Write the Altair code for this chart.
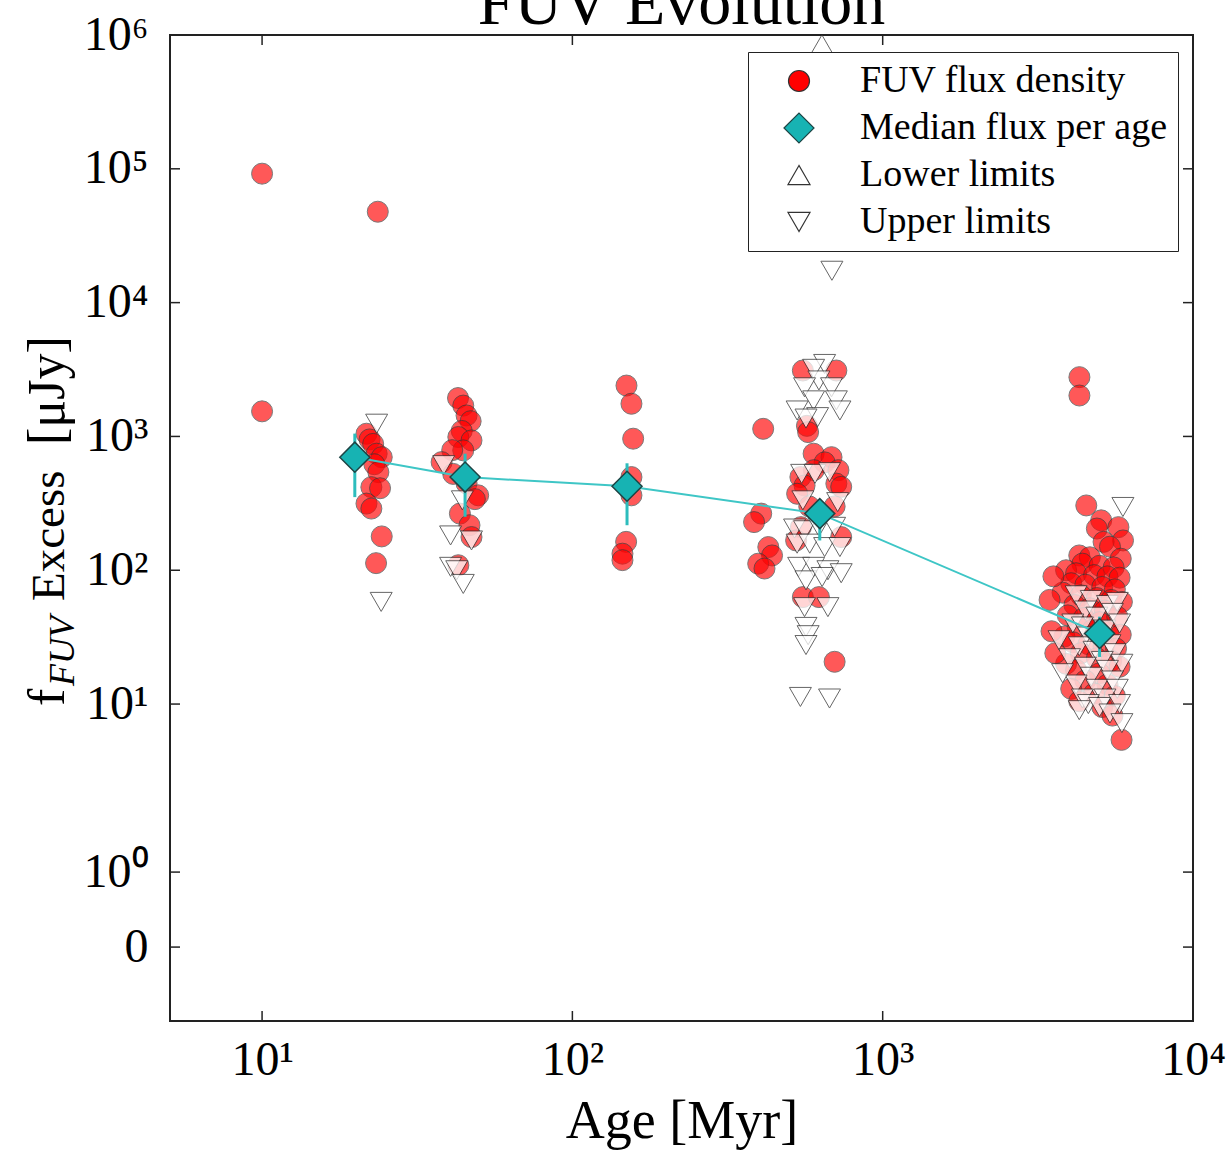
import altair as alt
import pandas as pd

# ---------------- data ----------------
title_text = "FUV Evolution"
x_title = "Age [Myr]"
y_title_f = "f"
y_title_sub = "FUV"
y_title_mid = "Excess"
y_title_unit = "[\u03bcJy]"

series_names = ["FUV flux density", "Median flux per age", "Lower limits", "Upper limits"]

circle_age = [
    10, 10,
    23.6, 21.7, 22.2, 22.8, 23.4, 24.3, 23.0, 23.7, 22.5, 24.0, 21.7, 22.5, 24.3, 23.3,
    42.8, 44.5, 45.6, 47.0, 44.0, 42.9, 47.3, 44.5, 41.0, 37.9, 41.3, 45.6, 49.7, 48.5, 43.4, 46.6, 47.3, 42.9,
    149.4, 155, 157, 155, 155, 149, 145, 145,
    412, 406, 385, 428, 440, 397, 416,
    553, 709, 570, 575, 599, 684, 650, 600, 720, 543, 709, 560, 735, 530, 580, 700, 545, 526, 735, 553, 623, 700,
    4305, 4305, 4530, 5060, 5750, 4900, 5950, 5150, 5400, 4300, 5850, 4650, 4400, 5000, 5550,
    3900, 4200, 4800, 5300, 5800, 4050, 4500, 5100, 5600, 3800, 4350, 4900, 5450, 5900, 4150,
    4650, 5200, 3950, 4450, 5000, 5700, 4250, 4750, 5350, 5850, 3850, 4100, 4600, 5150, 5650,
    4350, 4900, 5450, 3900, 4200, 5000, 5800, 4500, 5300, 4050, 4800, 5600, 4300, 5100, 5500, 5885,
    3550, 3450, 3500, 3600,
]
circle_flux = [
    92000, 1540,
    47800, 1048, 950, 880, 743, 700, 620, 541, 418, 410, 315, 289, 179, 113,
    1936, 1700, 1435, 1300, 1100, 990, 934, 787, 790, 643, 525, 446, 363, 340, 265, 217, 177, 109,
    2400, 1755, 962, 497, 363, 163, 133, 119,
    1140, 265, 229, 149, 129, 112, 103,
    3110, 3110, 1200, 1077, 743, 700, 640, 560, 560, 497, 444, 430, 420, 373, 300, 300, 210, 167, 177, 63, 63, 20.7,
    2774, 2022, 305, 236, 210, 205, 167, 163, 150, 129, 122, 125, 112, 108, 105,
    100, 95, 92, 90, 88, 80, 78, 75, 72, 68, 65, 62, 60, 58, 55,
    52, 50, 46, 44, 41, 45, 38, 36, 35, 33, 32, 29, 28, 27, 26,
    24, 22, 21, 20, 18, 17, 19, 15, 14, 13, 12, 11.5, 10.5, 9.5, 8.2, 5.4,
    90, 60, 35, 24,
]

upper_age = [
    23.4, 24.2,
    38.5, 44.2, 40.5, 47.3, 40.5, 42.4, 44.5,
    686, 650, 599, 623, 560, 684, 599, 709, 530, 728, 617, 566, 548, 605, 674, 553, 716,
    520, 560, 623, 700, 530, 582, 650, 728, 536, 599, 666, 735, 566, 638, 560, 666, 566, 575, 566, 543, 674,
    5945, 4200, 4700, 5300, 5700, 4500, 4900, 5500, 4100, 4400, 5200, 5800, 4600, 5000, 5400, 4300, 4800, 5600,
    4000, 5100, 5900, 4500, 5300, 4700, 5500, 4200, 4900, 5700, 4400, 5200, 4600, 5000, 5800, 4300, 5400, 5900,
    3700, 3800,
]
upper_flux = [
    1245, 58,
    610, 333, 182, 167, 106, 100, 79,
    17300, 3480, 3200, 2620, 2330, 2330, 1860, 1860, 1563, 1563, 1394, 1360, 525, 525, 541, 333, 323,
    205, 199, 211, 211, 158, 158, 149, 149, 106, 106, 100, 95, 84, 89, 53, 53, 37.7, 32.7, 27.6, 11.3, 11.0,
    297, 65, 60, 55, 58, 50, 45, 48, 40, 38, 36, 40, 32, 30, 28, 27, 25, 24,
    22, 21, 20, 19, 18, 16, 15, 14, 13, 13, 11, 11, 10, 9.5, 10, 9, 8.5, 7.2,
    30, 17,
]

lower_age = [637]
lower_flux = [850000]

median_age = [19.9, 45.1, 150, 627, 5000]
median_flux = [700, 497, 424, 265, 33.7]
median_lo = [352, 251, 217, 167, 22.5]
median_hi = [1050, 743, 630, 340, 45]

x_tick_values = [10, 100, 1000, 10000]
x_tick_labels = ["10\u00b9", "10\u00b2", "10\u00b3", "10\u2074"]
y_tick_values = [1e6, 1e5, 1e4, 1e3, 1e2, 1e1, 0.555, 0.1527]
y_tick_labels = ["10\u2076", "10\u2075", "10\u2074", "10\u00b3", "10\u00b2", "10\u00b9", "10\u2070", "0"]

x_domain = [5.05, 10000]
y_domain = [0.0428, 1e6]

# ---------------- tables ----------------
circles = pd.DataFrame({"age": circle_age, "flux": circle_flux, "series": series_names[0]})
uppers = pd.DataFrame({"age": upper_age, "flux": upper_flux, "series": series_names[3]})
lowers = pd.DataFrame({"age": lower_age, "flux": lower_flux, "series": series_names[2]})
medians = pd.DataFrame({"age": median_age, "flux": median_flux, "lo": median_lo,
                        "hi": median_hi, "series": series_names[1]})
xt = pd.DataFrame({"age": x_tick_values})
yt = pd.DataFrame({"flux": y_tick_values})

FONT = "Liberation Serif"
W, H = 1023, 986

xs = alt.Scale(type="log", domain=x_domain, nice=False, zero=False)
ys = alt.Scale(type="log", domain=y_domain, nice=False, zero=False)


def lab_expr(vals, labs):
    cond = "'' "
    for v, l in zip(reversed(vals), reversed(labs)):
        cond = "(abs(datum.value - %r) < %r ? '%s' : %s)" % (v, v * 1e-6, l, cond)
    return cond


x_axis = alt.Axis(values=x_tick_values, labelExpr=lab_expr(x_tick_values, x_tick_labels),
                  ticks=False, domain=False, grid=False, labelFont=FONT, labelFontSize=48,
                  labelColor="black", labelPadding=15, labelFlush=False, labelOverlap=False,
                  labelBound=False,
                  title=x_title, titleFont=FONT, titleFontSize=54, titleFontWeight="normal",
                  titleColor="black", titleX=W / 2, titleY=116, titleBaseline="alphabetic",
                  titleAlign="center")
y_axis = alt.Axis(values=y_tick_values, labelExpr=lab_expr(y_tick_values, y_tick_labels),
                  ticks=False, domain=False, grid=False, labelFont=FONT, labelFontSize=48,
                  labelColor="black", labelPadding=22, labelOverlap=False, labelBound=False,
                  labelFlush=False, title=None)

legend = alt.Legend(title=None, orient="none", legendX=578, legendY=17,
                    labelFont=FONT, labelFontSize=38, labelColor="black", labelOffset=42,
                    symbolOffset=22, rowPadding=9, padding=10, strokeColor="#222",
                    fillColor="white", cornerRadius=0, symbolOpacity=1,
                    symbolStrokeWidth=1.2, labelLimit=600)

shape_scale = alt.Scale(domain=series_names, range=["circle", "diamond", "triangle-up", "triangle-down"])
fill_scale = alt.Scale(domain=series_names, range=["#ff0000", "#17b3b3", "#ffffff", "#ffffff"])
stroke_scale = alt.Scale(domain=series_names, range=["#333333", "#1d4444", "#333333", "#333333"])
size_scale = alt.Scale(type="ordinal", domain=series_names, range=[441, 900, 484, 484])


def xy(yfield="flux"):
    return dict(x=alt.X("age:Q", scale=xs, axis=x_axis),
                y=alt.Y(yfield + ":Q", scale=ys, axis=y_axis))


def sym_enc():
    d = xy()
    d.update(
        shape=alt.Shape("series:N", scale=shape_scale, legend=legend),
        fill=alt.Fill("series:N", scale=fill_scale, legend=legend),
        stroke=alt.Stroke("series:N", scale=stroke_scale, legend=legend),
        size=alt.Size("series:N", scale=size_scale, legend=legend),
    )
    return d


circ_layer = alt.Chart(circles).mark_point(filled=True, opacity=0.65, strokeWidth=1).encode(**sym_enc())
up_layer = alt.Chart(uppers).mark_point(filled=True, opacity=0.75, strokeWidth=1).encode(**sym_enc())
low_layer = alt.Chart(lowers).mark_point(filled=True, opacity=0.75, strokeWidth=1).encode(**sym_enc())

line_layer = alt.Chart(medians).mark_line(color="#3ec6c6", strokeWidth=2).encode(**xy())
err_enc = xy("lo")
err_enc["y2"] = "hi:Q"
err_layer = alt.Chart(medians).mark_rule(color="#2dbdbd", strokeWidth=3).encode(**err_enc)
dia_layer = alt.Chart(medians).mark_point(filled=True, opacity=1, strokeWidth=1.5).encode(**sym_enc())

tick_style = dict(stroke="#222", strokeWidth=1.5)
yl = alt.Chart(yt).mark_rule(**tick_style).encode(
    y=alt.Y("flux:Q", scale=ys, axis=y_axis), x=alt.value(0), x2=alt.value(10))
yr = alt.Chart(yt).mark_rule(**tick_style).encode(
    y=alt.Y("flux:Q", scale=ys, axis=y_axis), x=alt.value(W - 10), x2=alt.value(W))
xb = alt.Chart(xt).mark_rule(**tick_style).encode(
    x=alt.X("age:Q", scale=xs, axis=x_axis), y=alt.value(H - 10), y2=alt.value(H))
xtp = alt.Chart(xt).mark_rule(**tick_style).encode(
    x=alt.X("age:Q", scale=xs, axis=x_axis), y=alt.value(0), y2=alt.value(10))

title_layer = alt.Chart(pd.DataFrame({"t": [title_text]})).mark_text(
    font=FONT, fontSize=66, align="center", baseline="alphabetic", color="black").encode(
    x=alt.value(W / 2), y=alt.value(-11), text="t:N")

yt1 = alt.Chart(pd.DataFrame({"t": [y_title_f]})).mark_text(
    font=FONT, fontSize=52, angle=270, align="left", baseline="alphabetic", color="black").encode(
    x=alt.value(-106), y=alt.value(671), text="t:N")
yt2 = alt.Chart(pd.DataFrame({"t": [y_title_sub]})).mark_text(
    font=FONT, fontSize=36, fontStyle="italic", angle=270, align="left", baseline="alphabetic",
    color="black").encode(x=alt.value(-96), y=alt.value(651), text="t:N")
yt3 = alt.Chart(pd.DataFrame({"t": [y_title_mid]})).mark_text(
    font=FONT, fontSize=47, angle=270, align="left", baseline="alphabetic", color="black").encode(
    x=alt.value(-106), y=alt.value(566), text="t:N")
yt4 = alt.Chart(pd.DataFrame({"t": [y_title_unit]})).mark_text(
    font=FONT, fontSize=52, angle=270, align="left", baseline="alphabetic", color="black").encode(
    x=alt.value(-106), y=alt.value(410), text="t:N")

chart = alt.layer(
    circ_layer, up_layer, low_layer, line_layer, err_layer, dia_layer,
    yl, yr, xb, xtp, title_layer, yt1, yt2, yt3, yt4,
).properties(
    width=W, height=H,
    autosize=alt.AutoSizeParams(type="none"),
    padding={"left": 170, "top": 35, "right": 39, "bottom": 130},
).configure(font=FONT, background="white").configure_view(stroke="#222", strokeWidth=2)

chart.save("out.html", embed_options={"renderer": "svg", "actions": False})
